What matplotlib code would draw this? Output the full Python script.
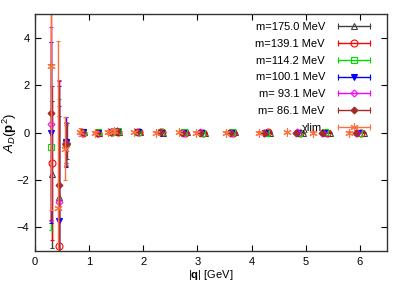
import matplotlib
matplotlib.use("Agg")
import matplotlib.pyplot as plt
from matplotlib.lines import Line2D
from matplotlib.legend_handler import HandlerLine2D

plt.rcParams['font.family'] = ['Liberation Sans', 'DejaVu Sans']
plt.rcParams['mathtext.fontset'] = 'custom'
plt.rcParams['mathtext.rm'] = 'Liberation Sans'
plt.rcParams['mathtext.it'] = 'Liberation Sans:italic'
plt.rcParams['mathtext.bf'] = 'Liberation Sans:bold'

labels = ["m=175.0 MeV", "m=139.1 MeV", "m=114.2 MeV", "m=100.1 MeV",
          "m= 93.1 MeV", "m= 86.1 MeV", "\u03c7lim."]

q_1750 = [0.31, 0.45, 0.59, 0.90, 1.18, 1.44, 1.56, 1.94, 2.37, 2.80, 3.13, 3.70, 4.34, 4.95, 5.44, 6.07]
q_1391 = [0.31, 0.45, 0.58, 0.89, 1.17, 1.43, 1.54, 1.92, 2.35, 2.77, 3.10, 3.66, 4.30, 4.90, 5.39, 6.02]
q_1142 = [0.30, 0.45, 0.58, 0.88, 1.16, 1.42, 1.53, 1.91, 2.33, 2.75, 3.08, 3.64, 4.27, 4.87, 5.36, 5.99]
q_1001 = [0.30, 0.44, 0.57, 0.88, 1.16, 1.41, 1.52, 1.90, 2.32, 2.74, 3.06, 3.62, 4.25, 4.85, 5.33, 5.96]
q_931 = [0.30, 0.44, 0.57, 0.87, 1.15, 1.41, 1.52, 1.89, 2.31, 2.73, 3.05, 3.61, 4.23, 4.83, 5.31, 5.94]
q_861 = [0.30, 0.44, 0.57, 0.87, 1.15, 1.40, 1.51, 1.88, 2.30, 2.72, 3.04, 3.60, 4.22, 4.81, 5.29, 5.92]
q_chi = [0.29, 0.43, 0.56, 0.84, 1.11, 1.35, 1.46, 1.83, 2.24, 2.65, 2.97, 3.52, 4.13, 4.66, 5.14, 5.80]

a_1750 = [-1.75, -2.71, -0.35, 0.01, 0.00, 0.02, 0.03, 0.01, 0.00, 0.01, 0.00, 0.01, 0.00, 0.00, 0.00, 0.00]
a_1391 = [-1.30, -4.79, -0.50, 0.00, 0.00, 0.02, 0.04, 0.01, 0.01, 0.00, 0.00, 0.00, 0.01, 0.00, 0.00, 0.00]
a_1142 = [-0.60, -5.60, -0.45, 0.02, 0.01, 0.03, 0.05, 0.02, 0.01, 0.01, 0.00, 0.01, 0.00, 0.00, 0.01, 0.00]
a_1001 = [0.00, -3.72, -0.40, 0.01, 0.00, 0.02, 0.04, 0.01, 0.00, 0.00, 0.00, 0.00, 0.00, 0.00, 0.00, 0.00]
a_931 = [0.37, -2.92, -0.45, 0.00, 0.00, 0.03, 0.05, 0.01, 0.01, 0.00, 0.01, 0.00, 0.00, 0.01, 0.00, 0.00]
a_861 = [0.82, -2.22, -0.50, 0.01, 0.00, 0.02, 0.05, 0.02, 0.01, 0.00, 0.00, 0.00, 0.00, 0.00, 0.00, 0.00]
a_chi = [2.79, -3.20, -0.68, 0.02, 0.00, 0.03, 0.05, 0.02, 0.00, 0.01, 0.00, 0.00, 0.00, 0.01, 0.00, 0.00]

e_1750 = [3.10, 3.40, 0.75, 0.04, 0.03, 0.03, 0.03, 0.02, 0.02, 0.02, 0.02, 0.02, 0.02, 0.02, 0.02, 0.02]
e_1391 = [3.25, 5.90, 0.80, 0.04, 0.03, 0.03, 0.03, 0.02, 0.02, 0.02, 0.02, 0.02, 0.02, 0.02, 0.02, 0.02]
e_1142 = [3.50, 7.00, 0.85, 0.04, 0.03, 0.03, 0.03, 0.02, 0.02, 0.02, 0.02, 0.02, 0.02, 0.02, 0.02, 0.02]
e_1001 = [3.80, 5.70, 1.05, 0.05, 0.03, 0.03, 0.03, 0.02, 0.02, 0.02, 0.02, 0.02, 0.02, 0.02, 0.02, 0.02]
e_931 = [4.10, 5.15, 0.90, 0.05, 0.03, 0.03, 0.03, 0.02, 0.02, 0.02, 0.02, 0.02, 0.02, 0.02, 0.02, 0.02]
e_861 = [4.50, 4.40, 0.90, 0.05, 0.03, 0.03, 0.03, 0.02, 0.02, 0.02, 0.02, 0.02, 0.02, 0.02, 0.02, 0.02]
e_chi = [6.05, 7.05, 1.32, 0.15, 0.08, 0.08, 0.08, 0.05, 0.05, 0.05, 0.05, 0.05, 0.05, 0.05, 0.05, 0.05]

qs = [q_1750, q_1391, q_1142, q_1001, q_931, q_861, q_chi]
avs = [a_1750, a_1391, a_1142, a_1001, a_931, a_861, a_chi]
errs = [e_1750, e_1391, e_1142, e_1001, e_931, e_861, e_chi]

colors = ['#404040', '#ff0000', '#00dd00', '#0000ff', '#ff00ff', '#a52a2a', '#ff7040']
markers = ['^', 'o', 's', 'v', 'D', 'D', (6, 2, 0)]
mfcs = ['none', 'none', 'none', '#0000ff', 'none', '#a52a2a', '#ff7040']
msizes = [4.5, 5, 5, 4.5, 3.5, 3.5, 6]

fig = plt.figure(figsize=(4.07, 2.85), dpi=100)
ax = fig.add_axes([0.086, 0.119, 0.865, 0.832])

handles = []
hmap = {}
for q, a, e, c, m, mf, ms, lab in zip(qs, avs, errs, colors, markers, mfcs, msizes, labels):
    ax.errorbar(q, a, yerr=e, fmt='none', ecolor=c, elinewidth=1.0, capsize=1.5, capthick=0.8)
    ax.plot(q, a, linestyle='none', marker=m, color=c, mfc=mf, mec=c, ms=ms, mew=0.8)
    capline = Line2D([], [], color=c, lw=1.0, marker='|', ms=4, mew=0.8)
    markline = Line2D([], [], linestyle='none', marker=m, color=c, mfc=mf, mec=c, ms=ms, mew=0.8)
    hmap[capline] = HandlerLine2D(numpoints=2, marker_pad=0)
    hmap[markline] = HandlerLine2D(numpoints=1)
    handles.append((capline, markline))

ax.set_xlim(0, 6.5)
ax.set_ylim(-5, 5)
ax.set_xticks([0, 1, 2, 3, 4, 5, 6])
ax.set_yticks([-4, -2, 0, 2, 4])
ax.tick_params(direction='in', top=True, right=True, labelsize=8, length=4, width=0.8, pad=4)
for s in ax.spines.values():
    s.set_linewidth(1.0)
    s.set_color('#333333')

ax.set_xlabel(r'$|\mathbf{q}|$ [GeV]', fontsize=8, labelpad=1)
ax.set_ylabel(r'$A_D(\mathbf{p}^2)$', fontsize=9.5)
ax.yaxis.set_label_coords(-0.046, 0.5)

leg = ax.legend(handles, labels, handler_map=hmap, loc='upper right', frameon=False,
                markerfirst=False, fontsize=8, handlelength=2.9, handletextpad=1.2,
                labelspacing=0.62, borderaxespad=0.3, bbox_to_anchor=(0.975, 1.0))

fig.savefig('out.png', dpi=100)
